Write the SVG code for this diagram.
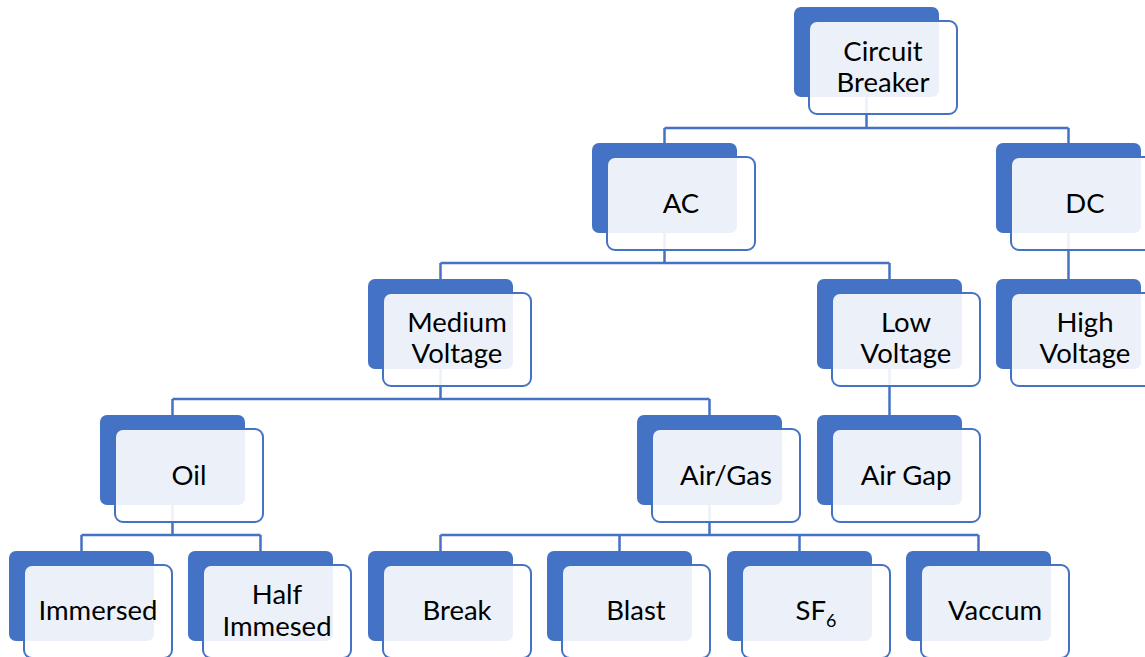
<svg xmlns="http://www.w3.org/2000/svg" width="1145" height="657" viewBox="0 0 1145 657">
<style>
.back{fill:#4472C4;}
.front{fill:#FFFFFF;fill-opacity:0.9;stroke:#4472C4;stroke-width:2;}
.lbl{font-family:Lato,"Open Sans","Liberation Sans",sans-serif;font-size:27.5px;fill:#000;text-anchor:middle;}
.con{fill:none;stroke:#4472C4;stroke-width:2.5;}
</style>
<rect width="1145" height="657" fill="#FFFFFF"/>
<g id="connectors">
<path class="con" d="M866.5,60 V128 M664.5,128 H1068.5 M664.5,128 V150 M1068.5,128 V150"/>
<path class="con" d="M664.5,190 V263 M440.5,263 H889.5 M440.5,263 V285 M889.5,263 V285"/>
<path class="con" d="M1068.5,190 V285"/>
<path class="con" d="M440.5,330 V399 M172.5,399 H709.5 M172.5,399 V420 M709.5,399 V420"/>
<path class="con" d="M889.5,330 V420"/>
<path class="con" d="M172.5,465 V535 M81.5,535 H260.5 M81.5,535 V556 M260.5,535 V556"/>
<path class="con" d="M709.5,465 V535 M440.5,535 H978.5 M440.5,535 V556 M619.5,535 V556 M799.5,535 V556 M978.5,535 V556"/>
</g>
<g id="node-circuit-breaker">
<rect class="back" x="794" y="7" width="145" height="90" rx="7"/>
<rect class="front" x="809" y="21" width="148" height="93" rx="8"/>
<text class="lbl" x="883" y="61">Circuit</text>
<text class="lbl" x="883" y="92">Breaker</text>
</g>
<g id="node-ac">
<rect class="back" x="592" y="143" width="145" height="90" rx="7"/>
<rect class="front" x="607" y="157" width="148" height="93" rx="8"/>
<text class="lbl" x="681" y="213">AC</text>
</g>
<g id="node-dc">
<rect class="back" x="996" y="143" width="145" height="90" rx="7"/>
<rect class="front" x="1011" y="157" width="148" height="93" rx="8"/>
<text class="lbl" x="1085" y="213">DC</text>
</g>
<g id="node-medium-voltage">
<rect class="back" x="368" y="279" width="145" height="90" rx="7"/>
<rect class="front" x="383" y="293" width="148" height="93" rx="8"/>
<text class="lbl" x="457" y="332">Medium</text>
<text class="lbl" x="457" y="363">Voltage</text>
</g>
<g id="node-low-voltage">
<rect class="back" x="817" y="279" width="145" height="90" rx="7"/>
<rect class="front" x="832" y="293" width="148" height="93" rx="8"/>
<text class="lbl" x="906" y="332">Low</text>
<text class="lbl" x="906" y="363">Voltage</text>
</g>
<g id="node-high-voltage">
<rect class="back" x="996" y="279" width="145" height="90" rx="7"/>
<rect class="front" x="1011" y="293" width="148" height="93" rx="8"/>
<text class="lbl" x="1085" y="332">High</text>
<text class="lbl" x="1085" y="363">Voltage</text>
</g>
<g id="node-oil">
<rect class="back" x="100" y="415" width="145" height="90" rx="7"/>
<rect class="front" x="115" y="429" width="148" height="93" rx="8"/>
<text class="lbl" x="189" y="485">Oil</text>
</g>
<g id="node-air-gas">
<rect class="back" x="637" y="415" width="145" height="90" rx="7"/>
<rect class="front" x="652" y="429" width="148" height="93" rx="8"/>
<text class="lbl" x="726" y="485">Air/Gas</text>
</g>
<g id="node-air-gap">
<rect class="back" x="817" y="415" width="145" height="90" rx="7"/>
<rect class="front" x="832" y="429" width="148" height="93" rx="8"/>
<text class="lbl" x="906" y="485">Air Gap</text>
</g>
<g id="node-immersed">
<rect class="back" x="9" y="551" width="145" height="90" rx="7"/>
<rect class="front" x="24" y="565" width="148" height="93" rx="8"/>
<text class="lbl" x="98" y="620">Immersed</text>
</g>
<g id="node-half-immesed">
<rect class="back" x="188" y="551" width="145" height="90" rx="7"/>
<rect class="front" x="203" y="565" width="148" height="93" rx="8"/>
<text class="lbl" x="277" y="604">Half</text>
<text class="lbl" x="277" y="636">Immesed</text>
</g>
<g id="node-break">
<rect class="back" x="368" y="551" width="145" height="90" rx="7"/>
<rect class="front" x="383" y="565" width="148" height="93" rx="8"/>
<text class="lbl" x="457" y="620">Break</text>
</g>
<g id="node-blast">
<rect class="back" x="547" y="551" width="145" height="90" rx="7"/>
<rect class="front" x="562" y="565" width="148" height="93" rx="8"/>
<text class="lbl" x="636" y="620">Blast</text>
</g>
<g id="node-sf6">
<rect class="back" x="727" y="551" width="145" height="90" rx="7"/>
<rect class="front" x="742" y="565" width="148" height="93" rx="8"/>
<text class="lbl" x="816" y="620">SF<tspan font-size="18" dy="7">6</tspan></text>
</g>
<g id="node-vaccum">
<rect class="back" x="906" y="551" width="145" height="90" rx="7"/>
<rect class="front" x="921" y="565" width="148" height="93" rx="8"/>
<text class="lbl" x="995" y="620">Vaccum</text>
</g>
</svg>
